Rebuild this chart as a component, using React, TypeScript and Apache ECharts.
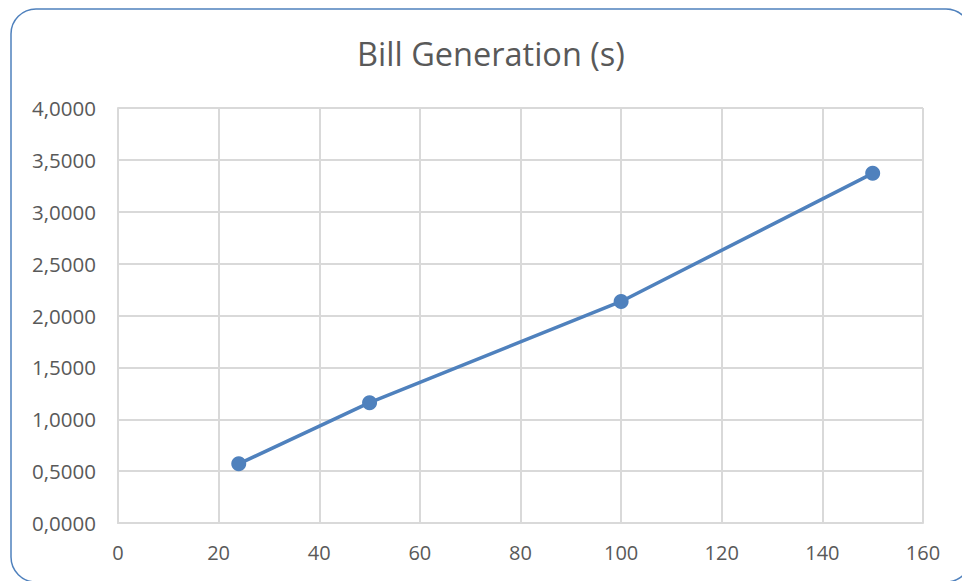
import React, { useEffect, useRef } from "react";
import * as echarts from "echarts";

// Bill generation time (seconds) against number of bills
const billCounts = [24, 50, 100, 150];
const generationSeconds = [0.57, 1.16, 2.135, 3.37];

const chartTitle = "Bill Generation (s)";
const xTicks = { min: 0, max: 160, interval: 20 };
const yTicks = { min: 0, max: 4, interval: 0.5 };

const FONT = "'Open Sans', Lato, sans-serif";
const LABEL_COLOR = "#595959";
const LINE_COLOR = "#4f81bd";
const GRID_COLOR = "#d9d9d9";

export default function App() {
  const ref = useRef<HTMLDivElement>(null);

  useEffect(() => {
    if (!ref.current) return;
    const chart = echarts.init(ref.current, null, { renderer: "svg" });
    const points = billCounts.map((x, i) => [x, generationSeconds[i]]);

    chart.setOption({
      animation: false,
      backgroundColor: "#ffffff",
      graphic: [
        {
          type: "rect",
          shape: { x: 11, y: 9, width: 960, height: 573, r: 25 },
          style: { fill: "none", stroke: LINE_COLOR, lineWidth: 1.5 },
          silent: true,
        },
        {
          // title centred on the framed chart box
          type: "text",
          x: 491,
          y: 53,
          style: {
            text: chartTitle,
            fontFamily: FONT,
            fontSize: 32.5,
            fill: LABEL_COLOR,
            align: "center",
            verticalAlign: "middle",
          },
          silent: true,
        },
      ],
      grid: { left: 118, right: 39, top: 108, bottom: 58 },
      xAxis: {
        type: "value",
        min: xTicks.min,
        max: xTicks.max,
        interval: xTicks.interval,
        axisLine: { show: true, lineStyle: { color: GRID_COLOR, width: 2 } },
        axisTick: { show: false },
        splitLine: { show: true, lineStyle: { color: GRID_COLOR, width: 2 } },
        axisLabel: {
          margin: 19,
          fontFamily: FONT,
          fontSize: 20,
          color: LABEL_COLOR,
        },
      },
      yAxis: {
        type: "value",
        min: yTicks.min,
        max: yTicks.max,
        interval: yTicks.interval,
        axisLine: { show: true, lineStyle: { color: GRID_COLOR, width: 2 } },
        axisTick: { show: false },
        splitLine: { show: true, lineStyle: { color: GRID_COLOR, width: 2 } },
        axisLabel: {
          margin: 22,
          fontFamily: FONT,
          fontSize: 20.5,
          color: LABEL_COLOR,
          formatter: (v: number) => v.toFixed(4).replace(".", ","),
        },
      },
      series: [
        {
          type: "line",
          data: points,
          symbol: "circle",
          symbolSize: 15,
          lineStyle: { color: LINE_COLOR, width: 3.5 },
          itemStyle: { color: LINE_COLOR },
        },
      ],
    });

    return () => chart.dispose();
  }, []);

  return (
    <div
      ref={ref}
      style={{ position: "fixed", left: 0, top: 0, width: 962, height: 581 }}
    />
  );
}
